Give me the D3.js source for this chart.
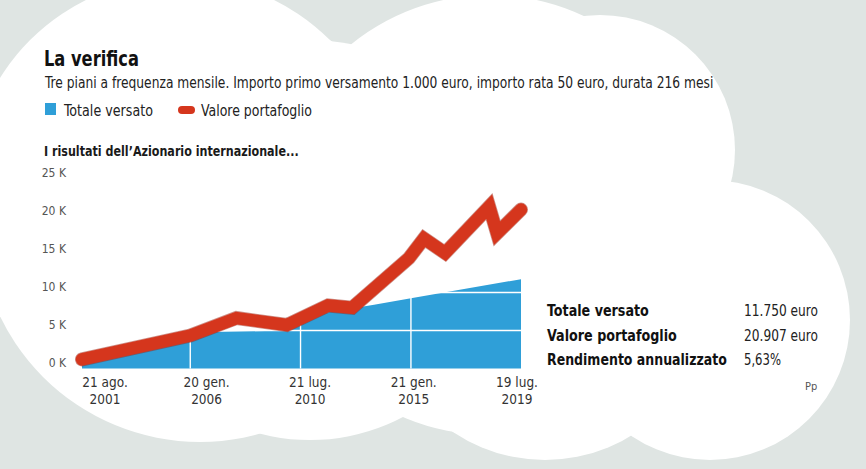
<!DOCTYPE html>
<html>
<head>
<meta charset="utf-8">
<script src="https://cdn.jsdelivr.net/npm/d3@7"></script>
<style>
  html, body { margin: 0; padding: 0; background: #dfe5e3; }
  svg { display: block; }
  text { font-family: 'Liberation Sans Narrow', 'DejaVu Sans Condensed', 'Roboto', sans-serif; }
</style>
</head>
<body>
<svg id="chart" width="866" height="469"></svg>
<script>
// ---------- DATA ----------
const title = "La verifica";
const subtitle = "Tre piani a frequenza mensile. Importo primo versamento 1.000 euro, importo rata 50 euro, durata 216 mesi";
const chartHeading = "I risultati dell\u2019Azionario internazionale...";
const seriesNames = ["Totale versato", "Valore portafoglio"];

// Totale versato (area)
const areaDates  = ["2001-08-21","2006-01-20","2006-10-21","2010-01-21","2010-07-21","2013-07-21","2015-01-21","2019-07-19"];
const areaValues = [1000, 3600, 4800, 5000, 6800, 8400, 9250, 11750];

// Valore portafoglio (line)
const lineDates  = ["2001-08-21","2006-01-20","2007-12-10","2009-12-28","2011-09-05","2012-08-28","2014-12-21","2015-08-03","2016-06-12","2018-04-01","2018-07-27","2019-07-19"];
const lineValues = [1200, 4340, 6640, 5720, 8290, 8000, 14500, 17100, 15200, 21300, 17800, 20907];

const yTicks = [0, 5000, 10000, 15000, 20000, 25000];
const yTickLabels = ["0 K", "5 K", "10 K", "15 K", "20 K", "25 K"];
const xTickDates = ["2001-08-21","2006-01-20","2010-07-21","2015-01-21","2019-07-19"];
const xTickLabels = [["21 ago.","2001"],["20 gen.","2006"],["21 lug.","2010"],["21 gen.","2015"],["19 lug.","2019"]];

const statLabels = ["Totale versato", "Valore portafoglio", "Rendimento annualizzato"];
const statValues = ["11.750 euro", "20.907 euro", "5,63%"];
const credit = "Pp";

// ---------- RENDER ----------
const parse = d3.timeParse("%Y-%m-%d");
const svg = d3.select("#chart");
const BLUE = "#2f9fd8", RED = "#d5361d", REDDARK = "#9c2414";

// place a text and squeeze it horizontally to a target width
function fitText(str, px, py, w, size, weight, fill) {
  const t = svg.append("text").attr("x", 0).attr("y", 0)
    .attr("font-size", size).attr("font-weight", weight).attr("fill", fill).text(str);
  const n = t.node().getComputedTextLength();
  t.attr("transform", `translate(${px},${py}) scale(${w / n},1)`);
  return t;
}

// cloud background (union of circles)
const cloud = svg.append("g").attr("fill", "#ffffff");
[[180,190,212],[200,220,222],[310,240,200],[490,215,220],[600,150,135],[710,320,140],[545,295,165]].forEach(c=>{
  cloud.append("circle").attr("cx",c[0]).attr("cy",c[1]).attr("r",c[2]);
});

const x = d3.scaleTime()
  .domain([parse(xTickDates[0]), parse(xTickDates[xTickDates.length-1])])
  .range([82, 521]);
const y = d3.scaleLinear().domain([0, 25000]).range([368.5, 178.5]);

// Titles
fitText(title, 44, 66, 95, 21, 700, "#111");
fitText(subtitle, 45, 88, 669, 15.5, 400, "#222");

// Legend
svg.append("rect").attr("x", 45).attr("y", 103).attr("width", 11).attr("height", 12).attr("fill", BLUE);
fitText(seriesNames[0], 64, 116, 89, 15.5, 400, "#222");
svg.append("rect").attr("x", 178).attr("y", 106).attr("width", 17).attr("height", 8).attr("rx", 4).attr("fill", RED);
fitText(seriesNames[1], 201, 116, 111, 15.5, 400, "#222");

fitText(chartHeading, 44, 156, 255, 14.5, 700, "#1a1a1a");

// Area
const areaData = areaDates.map((d,i)=>({date: parse(d), v: areaValues[i]}));
const lineData = lineDates.map((d,i)=>({date: parse(d), v: lineValues[i]}));

svg.append("path").datum(areaData)
  .attr("fill", BLUE)
  .attr("d", d3.area().x(d=>x(d.date)).y0(y(0)).y1(d=>y(d.v)));

// Grid (white)
const grid = svg.append("g").attr("stroke", "#ffffff").attr("stroke-width", 1.4);
grid.selectAll("line.h").data(yTicks.slice(1)).join("line")
  .attr("x1", x.range()[0]).attr("x2", x.range()[1])
  .attr("y1", d=>y(d)).attr("y2", d=>y(d));
grid.selectAll("line.v").data(xTickDates.slice(1, -1)).join("line")
  .attr("x1", d=>x(parse(d))).attr("x2", d=>x(parse(d)))
  .attr("y1", y(25000)).attr("y2", y(0));

// Y axis
const yAxis = svg.append("g").attr("transform", "translate(66,0)")
  .call(d3.axisLeft(y).tickValues(yTicks).tickSize(0).tickPadding(0)
    .tickFormat((d,i)=>yTickLabels[i]));
yAxis.select(".domain").remove();
yAxis.selectAll("text").attr("font-size", 12).attr("fill", "#555")
  .attr("font-family", "'Liberation Sans Narrow','DejaVu Sans Condensed',sans-serif")
  .attr("dy", "-0.15em");

// Line (dark edge + red core)
const lineGen = d3.line().x(d=>x(d.date)).y(d=>y(d.v));
svg.append("path").datum(lineData).attr("fill","none").attr("stroke", REDDARK).attr("stroke-opacity", 0.5)
  .attr("stroke-width", 14).attr("stroke-linejoin","miter").attr("stroke-miterlimit", 6)
  .attr("stroke-linecap","round").attr("d", lineGen);
svg.append("path").datum(lineData).attr("fill","none").attr("stroke", RED)
  .attr("stroke-width", 12.5).attr("stroke-linejoin","miter").attr("stroke-miterlimit", 6)
  .attr("stroke-linecap","round").attr("d", lineGen);

// X labels
const xl = x.copy().range([105, 517]);
const xg = svg.append("g");
xTickDates.forEach((d,i)=>{
  const t = xg.append("text").attr("text-anchor","middle").attr("font-size", 13.5).attr("fill", "#333");
  t.append("tspan").attr("x", xl(parse(d))).attr("y", 387).text(xTickLabels[i][0]);
  t.append("tspan").attr("x", xl(parse(d))).attr("y", 404).text(xTickLabels[i][1]);
});

// Stats
const statW = [102, 130, 180], valW = [74, 74, 37];
statLabels.forEach((s,i)=>{
  fitText(s, 547, 316 + i*24.5, statW[i], 16.5, 700, "#111");
  fitText(statValues[i], 744, 316 + i*24.5, valW[i], 15, 400, "#222");
});
svg.append("text").attr("x", 805).attr("y", 390).attr("font-size", 11).attr("fill", "#555").text(credit);
</script>
</body>
</html>
